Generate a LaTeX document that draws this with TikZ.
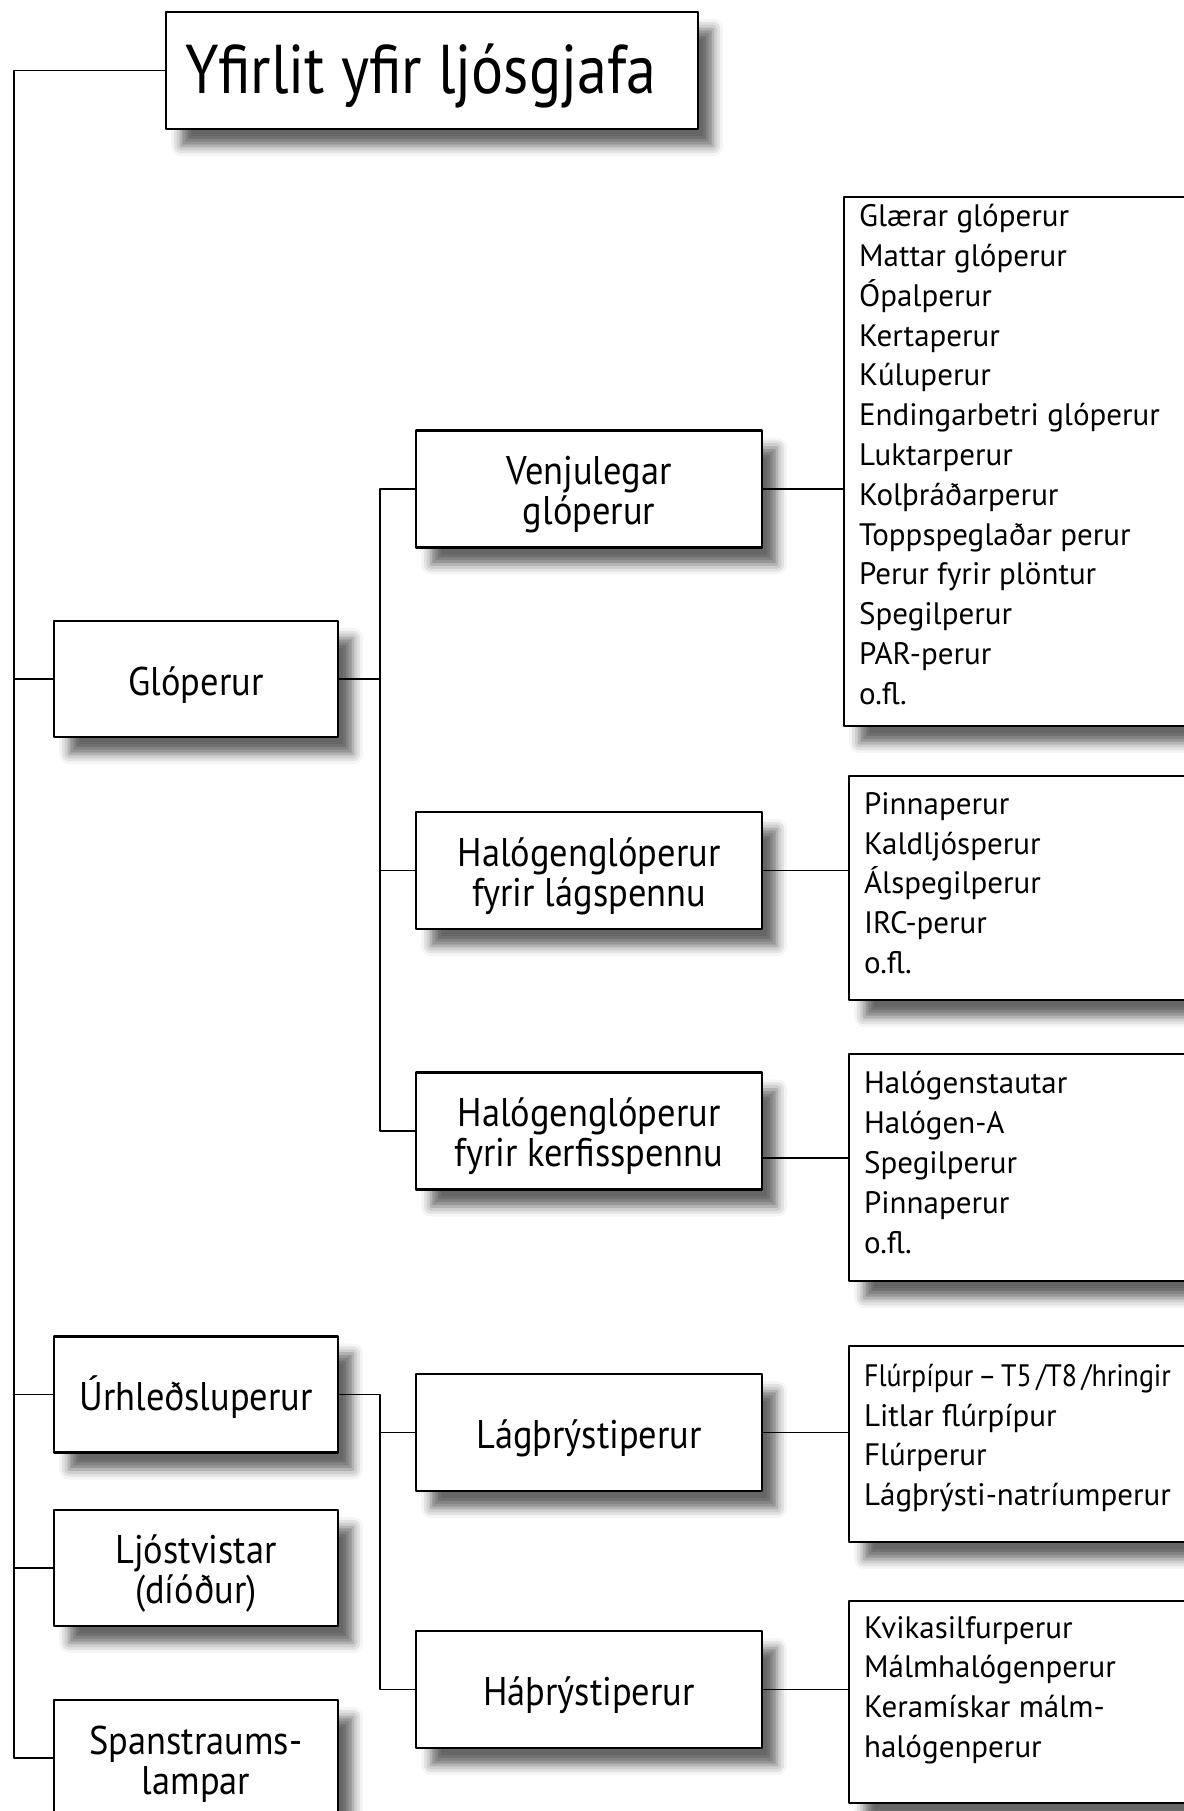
\documentclass[tikz,border=0pt]{standalone}
\usepackage{fontspec}
\usepackage{graphicx}
\setmainfont{PT Sans}
\newfontfamily\mjorfont[FakeStretch=0.91]{PT Sans}
\newfontfamily\titilfont[FakeStretch=0.87]{PT Sans}
\usetikzlibrary{shadows.blur}
\newcommand{\haekka}{\rule{0pt}{20pt}}
\begin{document}
\begin{tikzpicture}[x=0.5pt, y=-0.5pt, line join=round,
    kassi/.style={draw, line width=1.1pt, fill=white, inner sep=0pt,
      blur shadow={shadow xshift=7.5pt, shadow yshift=-8.5pt, shadow blur radius=5pt, shadow opacity=60}},
    flokkur/.style={kassi, minimum width=142pt, minimum height=58pt, align=center,
      font={\mjorfont\fontsize{20}{20}\selectfont}},
    undir/.style={flokkur, minimum width=173pt, minimum height=58.5pt},
    listi/.style={kassi, anchor=north west, inner xsep=7.5pt, text width=200pt, align=flush left,
      font={\fontsize{15.5}{19.9}\selectfont}},
    lyfta/.style={execute at end node={\endgraf\vspace*{#1}}},
    lina/.style={line width=0.8pt}]
  \useasboundingbox (0,0) rectangle (1184,1811);
  \clip (0,0) rectangle (1184,1811);
  \coordinate (stofn) at (14,0);
  \coordinate (grein) at (380,0);
  % fyrirsogn og flokkar
  \node[kassi, minimum height=58.5pt, inner xsep=9.5pt, text width=247pt, align=flush left,
    font={\titilfont\fontsize{34.5}{36}\selectfont}] (yfirlit) at (432,70.5) {\rule{0pt}{30.5pt}Yfirlit yfir ljósgjafa};
  \node[flokkur] (glo) at (196,679) {\haekka Glóperur};
  \node[flokkur] (urh) at (196,1394.5) {\haekka Úrhleðsluperur};
  \node[flokkur] (ljos) at (196,1568) {\haekka Ljóstvistar\\(díóður)};
  \node[flokkur] (span) at (196,1758) {\haekka Spanstraums-\\lampar};
  % undirflokkar
  \node[undir] (venj) at (589,489) {\haekka Venjulegar\\glóperur};
  \node[undir] (hlag) at (589,870.5) {\haekka Halógenglóperur\\fyrir lágspennu};
  \node[undir] (hkerf) at (589,1131) {\haekka Halógenglóperur\\fyrir kerfisspennu};
  \node[undir] (lagth) at (589,1432.5) {\haekka Lágþrýstiperur};
  \node[undir] (hath) at (589,1689.5) {\haekka Háþrýstiperur};
  % gerdir
  \node[listi, lyfta=7pt, minimum height=264.5pt] (gerdir1) at (843,196) {Glærar glóperur\\Mattar glóperur\\Ópalperur\\Kertaperur\\Kúluperur\\Endingarbetri glóperur\\Luktarperur\\Kolþráðarperur\\Toppspeglaðar perur\\Perur fyrir plöntur\\Spegilperur\\PAR-perur\\o.fl.};
  \node[listi, lyfta=5pt, minimum height=112pt] (gerdir2) at (848,775) {Pinnaperur\\Kaldljósperur\\Álspegilperur\\IRC-perur\\o.fl.};
  \node[listi, lyfta=5pt, minimum height=113.5pt] (gerdir3) at (848,1053) {Halógenstautar\\Halógen-A\\Spegilperur\\Pinnaperur\\o.fl.};
  \node[listi, lyfta=6pt, minimum height=98pt] (gerdir4) at (848,1345) {\scalebox{0.9}[1]{Flúrpípur\,–\,T5\,/T8\,/hringir}\\Litlar flúrpípur\\Flúrperur\\Lágþrýsti-natríumperur};
  \node[listi, lyfta=12pt, minimum height=101pt] (gerdir5) at (848,1600) {Kvikasilfurperur\\Málmhalógenperur\\Keramískar málm-\\halógenperur};
  % tengingar
  \draw[lina] (yfirlit.west) -- (yfirlit.west -| stofn) -- (span.west -| stofn) -- (span.west);
  \foreach \n in {glo,urh,ljos} \draw[lina] (\n.west) -- (\n.west -| stofn);
  \draw[lina] (glo.east) -- (glo.east -| grein);
  \draw[lina] (venj.west) -- (venj.west -| grein) -- (hkerf.west -| grein) -- (hkerf.west);
  \draw[lina] (hlag.west) -- (hlag.west -| grein);
  \draw[lina] (urh.east) -- (urh.east -| grein) -- (hath.west -| grein) -- (hath.west);
  \draw[lina] (lagth.west) -- (lagth.west -| grein);
  \draw[lina] (venj.east) -- (venj.east -| gerdir1.west);
  \draw[lina] (hlag.east) -- (hlag.east -| gerdir2.west);
  \draw[lina] ([yshift=-13.5pt]hkerf.east) coordinate (k) -- (k -| gerdir3.west);
  \draw[lina] (lagth.east) -- (lagth.east -| gerdir4.west);
  \draw[lina] (hath.east) -- (hath.east -| gerdir5.west);
\end{tikzpicture}
\end{document}
